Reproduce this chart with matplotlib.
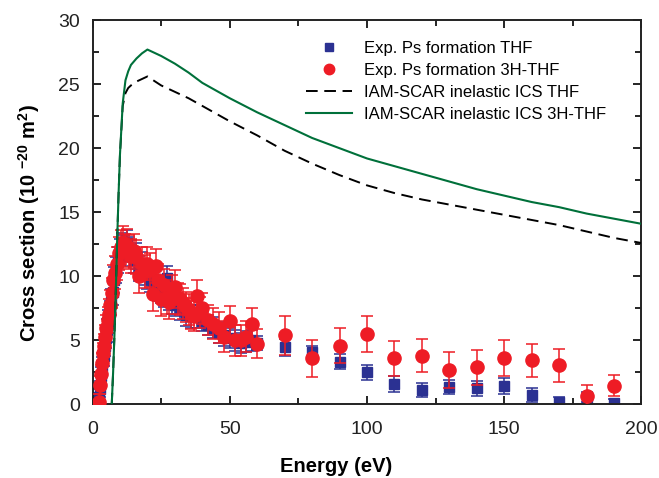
import numpy as np
import matplotlib
matplotlib.use("Agg")
import matplotlib.pyplot as plt

plt.rcParams['font.family'] = ['Liberation Sans', 'DejaVu Sans']
plt.rcParams['mathtext.fontset'] = 'custom'
plt.rcParams['mathtext.rm'] = 'Liberation Sans:bold'
plt.rcParams['mathtext.default'] = 'rm'

# Exp. Ps formation THF (blue squares)
e_thf = [2.0, 2.4, 2.8, 3.2, 3.6, 4.0, 4.4, 4.8, 5.3, 5.8, 6.3, 6.8, 7.3, 7.9, 8.5, 9.2,
         10.0, 10.8, 11.6, 12.4, 13.2, 14.0, 15.0, 16.0, 17.0, 18.0, 19.0, 20.0, 21.0, 22.0,
         23.0, 24.0, 25.0, 26.0, 27.0, 28.0, 29.0, 30.0, 32.0, 34.0, 36.0, 38.0, 40.0, 42.0,
         44.0, 46.0, 48.0, 50.0, 52.0, 54.0, 56.0, 58.0,
         60, 70, 80, 90, 100, 110, 120, 130, 140, 150, 160, 170, 180, 190]
s_thf = [0.1, 0.6, 1.2, 2.2, 3.0, 3.8, 4.6, 5.2, 5.8, 6.5, 7.2, 8.0, 8.8, 9.7, 10.5, 11.3,
         11.9, 12.4, 12.2, 12.6, 12.1, 11.8, 11.3, 11.6, 10.6, 10.9, 10.3, 10.0, 9.8, 9.6,
         9.1, 9.0, 8.8, 8.5, 9.9, 8.3, 8.0, 7.8, 7.5, 7.0, 6.9, 6.9, 6.5, 6.2,
         6.0, 5.6, 5.4, 5.2, 5.0, 4.8, 4.9, 5.0,
         4.8, 4.45, 4.1, 3.35, 2.5, 1.6, 1.13, 1.34, 1.26, 1.44, 0.74, 0.22, 0.6, 0.1]
err_thf = [0.5, 0.6, 0.6, 0.7, 0.7, 0.8, 0.8, 0.8, 0.9, 0.9, 0.9, 1.0, 1.0, 1.0, 1.0, 1.0,
           1.0, 1.0, 1.0, 1.0, 1.0, 1.0, 1.0, 1.0, 1.0, 1.0, 1.0, 1.0, 1.0, 1.0,
           0.9, 0.9, 0.9, 0.9, 0.9, 0.9, 0.9, 0.9, 0.9, 0.9, 0.9, 0.9, 0.8, 0.8,
           0.8, 0.8, 0.8, 0.8, 0.8, 0.8, 0.8, 0.8,
           0.55, 0.65, 0.45, 0.6, 0.6, 0.6, 0.55, 0.55, 0.6, 0.6, 0.55, 0.4, 0.4, 0.3]

# Exp. Ps formation 3H-THF (red circles)
e_3h = [2.5, 2.8, 3.2, 3.5, 3.8, 4.2, 4.6, 5.0, 5.5, 6.0, 6.5, 7.0, 7.6, 8.2, 8.8, 9.5,
        10.2, 11.0, 11.8, 12.6, 13.4, 14.2, 15.0, 16.0, 17.0, 18.0, 19.0, 20.0, 21.0, 22.0,
        23.0, 24.0, 25.0, 26.0, 27.0, 28.0, 29.0, 30.0, 31.0, 32.0, 33.0, 34.0, 35.0, 36.0,
        37.0, 38.0, 39.0, 40.0, 42.0, 44.0, 46.0, 48.0, 50.0, 52.0, 54.0, 56.0, 58.0,
        60, 70, 80, 90, 100, 110, 120, 130, 140, 150, 160, 170, 180, 190]
s_3h = [0.2, 1.5, 2.4, 3.2, 4.0, 4.6, 5.3, 6.0, 6.6, 7.1, 7.8, 8.7, 9.7, 10.3, 11.0, 11.8,
        12.3, 12.6, 12.0, 12.4, 11.9, 11.6, 12.0, 11.5, 10.0, 11.0, 10.4, 11.0, 10.5, 8.6,
        10.8, 9.7, 8.2, 9.3, 8.4, 8.0, 8.8, 9.2, 8.3, 8.2, 7.9, 7.6, 7.4, 7.1,
        6.9, 8.5, 7.2, 7.5, 6.6, 6.3, 6.0, 5.3, 6.5, 5.0, 5.0, 5.3, 6.3,
        4.75, 5.4, 3.6, 4.6, 5.5, 3.6, 3.8, 2.7, 2.9, 3.6, 3.45, 3.06, 0.7, 1.48]
err_3h = [0.6, 0.7, 0.7, 0.8, 0.8, 0.9, 0.9, 1.0, 1.0, 1.1, 1.1, 1.2, 1.2, 1.3, 1.3, 1.3,
          1.3, 1.3, 1.3, 1.3, 1.3, 1.3, 1.3, 1.3, 1.3, 1.3, 1.3, 1.3, 1.3, 1.3,
          1.3, 1.3, 1.3, 1.3, 1.3, 1.3, 1.3, 1.3, 1.2, 1.2, 1.2, 1.2, 1.2, 1.2,
          1.2, 1.2, 1.2, 1.2, 1.2, 1.2, 1.2, 1.2, 1.2, 1.2, 1.2, 1.2, 1.2,
          1.15, 1.5, 1.45, 1.4, 1.4, 1.35, 1.3, 1.4, 1.35, 1.4, 1.3, 1.3, 0.85, 0.8]

# IAM-SCAR inelastic ICS
e_th = [7.0, 7.5, 8.0, 8.5, 9.0, 9.5, 10.0, 11.0, 12.0, 13.0, 14.0, 16.0, 18.0, 20.0, 25.0,
        30.0, 35.0, 40.0, 50.0, 60.0, 70.0, 80.0, 90.0, 100.0, 110.0, 120.0, 130.0, 140.0,
        150.0, 160.0, 170.0, 180.0, 190.0, 200.0]
ics_thf = [0.0, 2.5, 5.5, 9.0, 13.0, 16.5, 19.5, 23.3, 24.3, 24.7, 24.9, 25.2, 25.4, 25.6, 24.9,
           24.4, 23.9, 23.3, 22.1, 21.0, 19.8, 18.8, 17.9, 17.1, 16.5, 16.0, 15.6, 15.2,
           14.8, 14.4, 14.0, 13.5, 13.0, 12.6]
ics_3h = [0.0, 2.5, 5.5, 9.0, 13.0, 16.5, 19.5, 23.5, 25.3, 26.0, 26.5, 27.0, 27.4, 27.7, 27.2,
          26.6, 25.9, 25.1, 23.9, 22.8, 21.8, 20.8, 20.0, 19.2, 18.6, 18.0, 17.4, 16.8,
          16.3, 15.8, 15.4, 14.9, 14.5, 14.1]

blue = '#2B3192'
red = '#EE1C25'
green = '#00703A'
dash = (0, (6, 3.4))

fig = plt.figure(figsize=(6.59, 4.78), dpi=100)
ax = fig.add_axes([0.1404, 0.1538, 0.8330, 0.8042])

ax.errorbar(e_thf, s_thf, yerr=err_thf, fmt='s', color=blue, ms=7, ecolor=blue,
            elinewidth=1.1, capsize=4.5, capthick=1.1, zorder=2)
ax.errorbar(e_3h, s_3h, yerr=err_3h, fmt='o', color=red, ms=9.5, ecolor=red,
            elinewidth=1.1, capsize=4.5, capthick=1.1, zorder=3)
ax.plot(e_th, ics_thf, color='black', ls=dash, lw=1.4, zorder=4)
ax.plot(e_th, ics_3h, color=green, lw=1.5, zorder=4)

# legend handles (no error bars in legend)
h1, = ax.plot([], [], 's', color=blue, ms=6)
h2, = ax.plot([], [], 'o', color=red, ms=7.5)
h3, = ax.plot([], [], color='black', ls=dash, lw=1.4)
h4, = ax.plot([], [], color=green, lw=1.5)
ax.legend([h1, h2, h3, h4],
          ['Exp. Ps formation THF', 'Exp. Ps formation 3H-THF',
           'IAM-SCAR inelastic ICS THF', 'IAM-SCAR inelastic ICS 3H-THF'],
          loc='upper left', bbox_to_anchor=(0.465, 0.914), bbox_transform=fig.transFigure,
          frameon=False, fontsize=12, handlelength=2.75, handletextpad=0.7,
          labelspacing=0.42, borderpad=0, borderaxespad=0)

ax.set_xlim(0, 200)
ax.set_ylim(0, 30)
ax.set_xticks([0, 50, 100, 150, 200])
ax.set_xticks([25, 75, 125, 175], minor=True)
ax.set_yticks([0, 5, 10, 15, 20, 25, 30])
ax.set_yticks(np.arange(2.5, 30, 5), minor=True)
ax.tick_params(which='both', direction='in', top=True, right=True, labelsize=14,
               width=1.2, labelcolor='#222222')
ax.tick_params(which='major', length=6)
ax.tick_params(which='minor', length=4)
ax.tick_params(axis='x', which='major', pad=12)
ax.tick_params(axis='y', which='major', pad=9)
for sp in ax.spines.values():
    sp.set_linewidth(1.4)
    sp.set_color('#222222')

ax.set_xlabel('Energy (eV)', fontsize=14.5, fontweight='bold')
ax.set_ylabel(r'Cross section (10 $^{-20}$ m$^{2}$)', fontsize=14.5, fontweight='bold')
ax.xaxis.set_label_coords(0.4435, -0.137)
ax.yaxis.set_label_coords(-0.092, 0.472)

fig.savefig('out.png', dpi=100)
